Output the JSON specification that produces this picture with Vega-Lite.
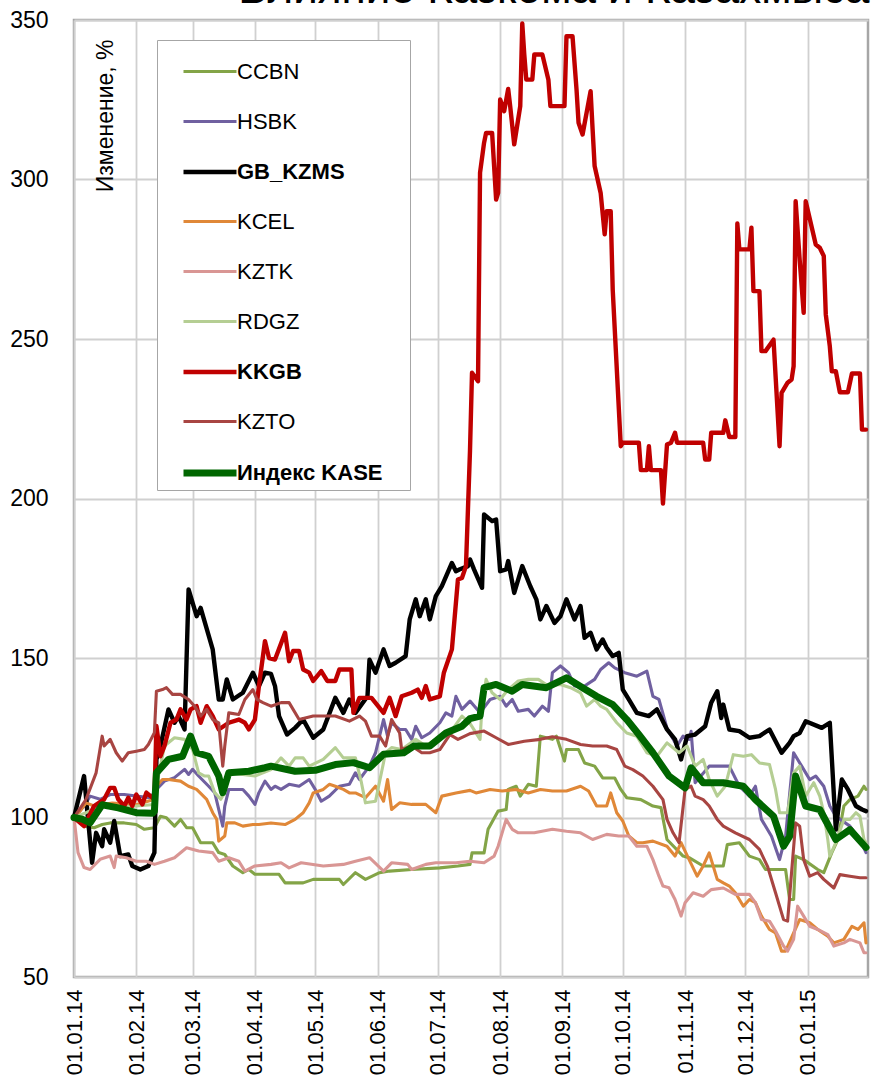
{
"$schema": "https://vega.github.io/schema/vega-lite/v6.json",
"width": 794, "height": 957,
"autosize": {"type": "none"},
"padding": {"left": 74, "top": 20, "right": 3, "bottom": 104},
"background": "white",
"title": {"text": "Влияние Казкома и Казахмыса", "anchor": "end", "orient": "top", "offset": -38, "baseline": "alphabetic", "font": "Liberation Sans", "fontSize": 44, "fontWeight": "normal", "color": "#000"},
"config": {"view": {"stroke": "#a6a6a6", "strokeWidth": 2.5}},
"data": {"values": [
{"s":"CCBN","d":"2014-01-01","v":100},{"s":"CCBN","d":"2014-01-06","v":97.3},{"s":"CCBN","d":"2014-01-11","v":96.8},{"s":"CCBN","d":"2014-01-15","v":97.8},{"s":"CCBN","d":"2014-01-19","v":98.3},{"s":"CCBN","d":"2014-01-26","v":98.3},{"s":"CCBN","d":"2014-02-01","v":97.8},{"s":"CCBN","d":"2014-02-05","v":96.3},{"s":"CCBN","d":"2014-02-10","v":96.8},{"s":"CCBN","d":"2014-02-13","v":100.4},{"s":"CCBN","d":"2014-02-16","v":99.9},{"s":"CCBN","d":"2014-02-20","v":97.3},{"s":"CCBN","d":"2014-02-23","v":99.4},{"s":"CCBN","d":"2014-02-26","v":96.8},{"s":"CCBN","d":"2014-03-01","v":96.8},{"s":"CCBN","d":"2014-03-05","v":92.1},{"s":"CCBN","d":"2014-03-11","v":92.1},{"s":"CCBN","d":"2014-03-14","v":89},{"s":"CCBN","d":"2014-03-17","v":88.4},{"s":"CCBN","d":"2014-03-21","v":84.8},{"s":"CCBN","d":"2014-03-26","v":82.7},{"s":"CCBN","d":"2014-03-29","v":83.7},{"s":"CCBN","d":"2014-04-01","v":82.2},{"s":"CCBN","d":"2014-04-09","v":82.2},{"s":"CCBN","d":"2014-04-13","v":82.2},{"s":"CCBN","d":"2014-04-16","v":79.5},{"s":"CCBN","d":"2014-04-25","v":79.5},{"s":"CCBN","d":"2014-04-30","v":80.6},{"s":"CCBN","d":"2014-05-13","v":80.6},{"s":"CCBN","d":"2014-05-15","v":79},{"s":"CCBN","d":"2014-05-21","v":82.7},{"s":"CCBN","d":"2014-05-26","v":80.6},{"s":"CCBN","d":"2014-06-02","v":82.7},{"s":"CCBN","d":"2014-06-07","v":83.2},{"s":"CCBN","d":"2014-06-18","v":83.7},{"s":"CCBN","d":"2014-07-02","v":84.2},{"s":"CCBN","d":"2014-07-11","v":84.8},{"s":"CCBN","d":"2014-07-17","v":85.3},{"s":"CCBN","d":"2014-07-18","v":88.9},{"s":"CCBN","d":"2014-07-24","v":88.9},{"s":"CCBN","d":"2014-07-26","v":96.3},{"s":"CCBN","d":"2014-07-31","v":102},{"s":"CCBN","d":"2014-08-04","v":102.5},{"s":"CCBN","d":"2014-08-05","v":108.8},{"s":"CCBN","d":"2014-08-09","v":109.8},{"s":"CCBN","d":"2014-08-11","v":106.7},{"s":"CCBN","d":"2014-08-15","v":110.4},{"s":"CCBN","d":"2014-08-19","v":109.8},{"s":"CCBN","d":"2014-08-21","v":125.5},{"s":"CCBN","d":"2014-08-27","v":124.5},{"s":"CCBN","d":"2014-08-29","v":125.5},{"s":"CCBN","d":"2014-09-02","v":117.7},{"s":"CCBN","d":"2014-09-03","v":121.3},{"s":"CCBN","d":"2014-09-09","v":121.3},{"s":"CCBN","d":"2014-09-12","v":117.1},{"s":"CCBN","d":"2014-09-17","v":116.1},{"s":"CCBN","d":"2014-09-21","v":112.4},{"s":"CCBN","d":"2014-09-27","v":112.4},{"s":"CCBN","d":"2014-09-30","v":108.8},{"s":"CCBN","d":"2014-10-03","v":106.2},{"s":"CCBN","d":"2014-10-10","v":105.6},{"s":"CCBN","d":"2014-10-16","v":103.6},{"s":"CCBN","d":"2014-10-20","v":103.1},{"s":"CCBN","d":"2014-10-23","v":93.1},{"s":"CCBN","d":"2014-10-31","v":87.9},{"s":"CCBN","d":"2014-11-03","v":87.4},{"s":"CCBN","d":"2014-11-10","v":84.8},{"s":"CCBN","d":"2014-11-20","v":84.8},{"s":"CCBN","d":"2014-11-22","v":91.5},{"s":"CCBN","d":"2014-11-28","v":92.1},{"s":"CCBN","d":"2014-12-03","v":87.9},{"s":"CCBN","d":"2014-12-08","v":86.8},{"s":"CCBN","d":"2014-12-11","v":83.7},{"s":"CCBN","d":"2014-12-21","v":83.7},{"s":"CCBN","d":"2014-12-23","v":74.3},{"s":"CCBN","d":"2014-12-25","v":74.3},{"s":"CCBN","d":"2014-12-26","v":87.9},{"s":"CCBN","d":"2014-12-30","v":86.8},{"s":"CCBN","d":"2015-01-06","v":83.7},{"s":"CCBN","d":"2015-01-09","v":82.7},{"s":"CCBN","d":"2015-01-13","v":89},{"s":"CCBN","d":"2015-01-16","v":93.1},{"s":"CCBN","d":"2015-01-19","v":103.6},{"s":"CCBN","d":"2015-01-22","v":105.6},{"s":"CCBN","d":"2015-01-26","v":106.7},{"s":"CCBN","d":"2015-01-29","v":109.8},{"s":"CCBN","d":"2015-01-30","v":108.8},
{"s":"HSBK","d":"2014-01-01","v":100},{"s":"HSBK","d":"2014-01-06","v":103.6},{"s":"HSBK","d":"2014-01-09","v":106.7},{"s":"HSBK","d":"2014-01-14","v":105.7},{"s":"HSBK","d":"2014-01-19","v":107.2},{"s":"HSBK","d":"2014-01-26","v":107.2},{"s":"HSBK","d":"2014-02-01","v":106.7},{"s":"HSBK","d":"2014-02-08","v":106.2},{"s":"HSBK","d":"2014-02-11","v":108.8},{"s":"HSBK","d":"2014-02-15","v":111.4},{"s":"HSBK","d":"2014-02-20","v":112.5},{"s":"HSBK","d":"2014-02-25","v":115.1},{"s":"HSBK","d":"2014-02-27","v":113.5},{"s":"HSBK","d":"2014-03-01","v":115.1},{"s":"HSBK","d":"2014-03-04","v":113},{"s":"HSBK","d":"2014-03-09","v":109.8},{"s":"HSBK","d":"2014-03-12","v":107.8},{"s":"HSBK","d":"2014-03-16","v":97.3},{"s":"HSBK","d":"2014-03-17","v":103.6},{"s":"HSBK","d":"2014-03-19","v":108.8},{"s":"HSBK","d":"2014-03-26","v":108.8},{"s":"HSBK","d":"2014-03-29","v":106.7},{"s":"HSBK","d":"2014-04-01","v":104.1},{"s":"HSBK","d":"2014-04-03","v":107.8},{"s":"HSBK","d":"2014-04-06","v":111.4},{"s":"HSBK","d":"2014-04-09","v":108.8},{"s":"HSBK","d":"2014-04-11","v":109.8},{"s":"HSBK","d":"2014-04-14","v":108.8},{"s":"HSBK","d":"2014-04-18","v":110.4},{"s":"HSBK","d":"2014-04-23","v":109.8},{"s":"HSBK","d":"2014-04-28","v":111.9},{"s":"HSBK","d":"2014-05-01","v":108.8},{"s":"HSBK","d":"2014-05-04","v":105.1},{"s":"HSBK","d":"2014-05-08","v":106.7},{"s":"HSBK","d":"2014-05-13","v":109.8},{"s":"HSBK","d":"2014-05-18","v":110.4},{"s":"HSBK","d":"2014-05-21","v":114},{"s":"HSBK","d":"2014-05-23","v":111.9},{"s":"HSBK","d":"2014-05-28","v":116.1},{"s":"HSBK","d":"2014-05-31","v":120.3},{"s":"HSBK","d":"2014-06-04","v":130.7},{"s":"HSBK","d":"2014-06-06","v":125.5},{"s":"HSBK","d":"2014-06-08","v":129.7},{"s":"HSBK","d":"2014-06-12","v":127.6},{"s":"HSBK","d":"2014-06-15","v":127.6},{"s":"HSBK","d":"2014-06-18","v":124.5},{"s":"HSBK","d":"2014-06-20","v":128.6},{"s":"HSBK","d":"2014-06-23","v":125},{"s":"HSBK","d":"2014-06-27","v":126.5},{"s":"HSBK","d":"2014-07-02","v":129.7},{"s":"HSBK","d":"2014-07-05","v":132.8},{"s":"HSBK","d":"2014-07-08","v":131.8},{"s":"HSBK","d":"2014-07-10","v":138},{"s":"HSBK","d":"2014-07-13","v":133.9},{"s":"HSBK","d":"2014-07-17","v":136.5},{"s":"HSBK","d":"2014-07-22","v":132.8},{"s":"HSBK","d":"2014-07-27","v":137},{"s":"HSBK","d":"2014-08-01","v":138},{"s":"HSBK","d":"2014-08-04","v":134.9},{"s":"HSBK","d":"2014-08-07","v":137},{"s":"HSBK","d":"2014-08-10","v":133.3},{"s":"HSBK","d":"2014-08-15","v":133.9},{"s":"HSBK","d":"2014-08-18","v":131.8},{"s":"HSBK","d":"2014-08-22","v":134.9},{"s":"HSBK","d":"2014-08-25","v":133.3},{"s":"HSBK","d":"2014-08-27","v":145.4},{"s":"HSBK","d":"2014-08-31","v":147.5},{"s":"HSBK","d":"2014-09-04","v":145.4},{"s":"HSBK","d":"2014-09-07","v":141.2},{"s":"HSBK","d":"2014-09-12","v":141.2},{"s":"HSBK","d":"2014-09-17","v":143.3},{"s":"HSBK","d":"2014-09-20","v":146.4},{"s":"HSBK","d":"2014-09-24","v":148.5},{"s":"HSBK","d":"2014-09-27","v":146.9},{"s":"HSBK","d":"2014-10-02","v":145.4},{"s":"HSBK","d":"2014-10-08","v":144.3},{"s":"HSBK","d":"2014-10-13","v":145.9},{"s":"HSBK","d":"2014-10-16","v":138},{"s":"HSBK","d":"2014-10-19","v":137},{"s":"HSBK","d":"2014-10-23","v":128},{"s":"HSBK","d":"2014-10-28","v":122.4},{"s":"HSBK","d":"2014-10-31","v":125.5},{"s":"HSBK","d":"2014-11-03","v":124.5},{"s":"HSBK","d":"2014-11-04","v":127},{"s":"HSBK","d":"2014-11-06","v":110.9},{"s":"HSBK","d":"2014-11-13","v":116.1},{"s":"HSBK","d":"2014-11-23","v":116.1},{"s":"HSBK","d":"2014-11-28","v":109.8},{"s":"HSBK","d":"2014-12-03","v":106.7},{"s":"HSBK","d":"2014-12-06","v":109.8},{"s":"HSBK","d":"2014-12-09","v":99.4},{"s":"HSBK","d":"2014-12-14","v":94.1},{"s":"HSBK","d":"2014-12-18","v":86.8},{"s":"HSBK","d":"2014-12-21","v":94.1},{"s":"HSBK","d":"2014-12-25","v":120.3},{"s":"HSBK","d":"2014-12-29","v":116.1},{"s":"HSBK","d":"2015-01-02","v":111.9},{"s":"HSBK","d":"2015-01-05","v":113},{"s":"HSBK","d":"2015-01-09","v":109.8},{"s":"HSBK","d":"2015-01-12","v":103.6},{"s":"HSBK","d":"2015-01-15","v":100.4},{"s":"HSBK","d":"2015-01-22","v":97.3},{"s":"HSBK","d":"2015-01-27","v":93.1},{"s":"HSBK","d":"2015-01-30","v":89},
{"s":"GB_KZMS","d":"2014-01-01","v":100},{"s":"GB_KZMS","d":"2014-01-06","v":113},{"s":"GB_KZMS","d":"2014-01-10","v":85.8},{"s":"GB_KZMS","d":"2014-01-12","v":95.2},{"s":"GB_KZMS","d":"2014-01-15","v":91},{"s":"GB_KZMS","d":"2014-01-16","v":96.3},{"s":"GB_KZMS","d":"2014-01-19","v":92.1},{"s":"GB_KZMS","d":"2014-01-21","v":98.9},{"s":"GB_KZMS","d":"2014-01-24","v":87.9},{"s":"GB_KZMS","d":"2014-01-28","v":88.4},{"s":"GB_KZMS","d":"2014-01-30","v":84.8},{"s":"GB_KZMS","d":"2014-02-03","v":83.7},{"s":"GB_KZMS","d":"2014-02-07","v":84.8},{"s":"GB_KZMS","d":"2014-02-10","v":89},{"s":"GB_KZMS","d":"2014-02-11","v":118.2},{"s":"GB_KZMS","d":"2014-02-13","v":122.4},{"s":"GB_KZMS","d":"2014-02-17","v":133.9},{"s":"GB_KZMS","d":"2014-02-20","v":129.7},{"s":"GB_KZMS","d":"2014-02-22","v":131.8},{"s":"GB_KZMS","d":"2014-02-25","v":127.6},{"s":"GB_KZMS","d":"2014-02-27","v":171.5},{"s":"GB_KZMS","d":"2014-03-03","v":163.1},{"s":"GB_KZMS","d":"2014-03-05","v":165.7},{"s":"GB_KZMS","d":"2014-03-11","v":152.7},{"s":"GB_KZMS","d":"2014-03-14","v":137},{"s":"GB_KZMS","d":"2014-03-16","v":137},{"s":"GB_KZMS","d":"2014-03-18","v":143.3},{"s":"GB_KZMS","d":"2014-03-21","v":137},{"s":"GB_KZMS","d":"2014-03-26","v":139.1},{"s":"GB_KZMS","d":"2014-03-31","v":145.4},{"s":"GB_KZMS","d":"2014-04-03","v":141.2},{"s":"GB_KZMS","d":"2014-04-06","v":145.4},{"s":"GB_KZMS","d":"2014-04-09","v":145},{"s":"GB_KZMS","d":"2014-04-11","v":141.2},{"s":"GB_KZMS","d":"2014-04-13","v":131.8},{"s":"GB_KZMS","d":"2014-04-17","v":126},{"s":"GB_KZMS","d":"2014-04-21","v":128.1},{"s":"GB_KZMS","d":"2014-04-25","v":130.7},{"s":"GB_KZMS","d":"2014-04-30","v":125},{"s":"GB_KZMS","d":"2014-05-05","v":127.6},{"s":"GB_KZMS","d":"2014-05-11","v":137.5},{"s":"GB_KZMS","d":"2014-05-15","v":132.8},{"s":"GB_KZMS","d":"2014-05-18","v":137},{"s":"GB_KZMS","d":"2014-05-21","v":132.8},{"s":"GB_KZMS","d":"2014-05-27","v":138},{"s":"GB_KZMS","d":"2014-05-28","v":149.5},{"s":"GB_KZMS","d":"2014-05-31","v":145.4},{"s":"GB_KZMS","d":"2014-06-04","v":152.7},{"s":"GB_KZMS","d":"2014-06-07","v":147.5},{"s":"GB_KZMS","d":"2014-06-10","v":148.5},{"s":"GB_KZMS","d":"2014-06-15","v":150.6},{"s":"GB_KZMS","d":"2014-06-17","v":162.1},{"s":"GB_KZMS","d":"2014-06-20","v":168.4},{"s":"GB_KZMS","d":"2014-06-22","v":163.1},{"s":"GB_KZMS","d":"2014-06-25","v":168.4},{"s":"GB_KZMS","d":"2014-06-27","v":162.1},{"s":"GB_KZMS","d":"2014-06-30","v":169.4},{"s":"GB_KZMS","d":"2014-07-03","v":172.5},{"s":"GB_KZMS","d":"2014-07-08","v":179.8},{"s":"GB_KZMS","d":"2014-07-10","v":177.2},{"s":"GB_KZMS","d":"2014-07-12","v":177.8},{"s":"GB_KZMS","d":"2014-07-16","v":178.8},{"s":"GB_KZMS","d":"2014-07-17","v":180.9},{"s":"GB_KZMS","d":"2014-07-19","v":177.8},{"s":"GB_KZMS","d":"2014-07-23","v":172},{"s":"GB_KZMS","d":"2014-07-24","v":195},{"s":"GB_KZMS","d":"2014-07-28","v":192.9},{"s":"GB_KZMS","d":"2014-07-30","v":193.4},{"s":"GB_KZMS","d":"2014-08-01","v":177.2},{"s":"GB_KZMS","d":"2014-08-04","v":177.8},{"s":"GB_KZMS","d":"2014-08-05","v":180.4},{"s":"GB_KZMS","d":"2014-08-08","v":170.4},{"s":"GB_KZMS","d":"2014-08-12","v":178.8},{"s":"GB_KZMS","d":"2014-08-16","v":172.5},{"s":"GB_KZMS","d":"2014-08-19","v":168.4},{"s":"GB_KZMS","d":"2014-08-21","v":162.1},{"s":"GB_KZMS","d":"2014-08-24","v":166.3},{"s":"GB_KZMS","d":"2014-08-28","v":161},{"s":"GB_KZMS","d":"2014-08-31","v":163.1},{"s":"GB_KZMS","d":"2014-09-03","v":168.4},{"s":"GB_KZMS","d":"2014-09-07","v":162.1},{"s":"GB_KZMS","d":"2014-09-10","v":166.3},{"s":"GB_KZMS","d":"2014-09-12","v":156.3},{"s":"GB_KZMS","d":"2014-09-15","v":157.9},{"s":"GB_KZMS","d":"2014-09-18","v":152.7},{"s":"GB_KZMS","d":"2014-09-21","v":155.8},{"s":"GB_KZMS","d":"2014-09-23","v":153.2},{"s":"GB_KZMS","d":"2014-09-26","v":150.6},{"s":"GB_KZMS","d":"2014-09-29","v":151.6},{"s":"GB_KZMS","d":"2014-10-01","v":140.1},{"s":"GB_KZMS","d":"2014-10-04","v":137},{"s":"GB_KZMS","d":"2014-10-08","v":132.8},{"s":"GB_KZMS","d":"2014-10-14","v":131.8},{"s":"GB_KZMS","d":"2014-10-18","v":133.9},{"s":"GB_KZMS","d":"2014-10-23","v":127.6},{"s":"GB_KZMS","d":"2014-10-27","v":124.5},{"s":"GB_KZMS","d":"2014-10-30","v":118.2},{"s":"GB_KZMS","d":"2014-11-02","v":125.5},{"s":"GB_KZMS","d":"2014-11-06","v":126},{"s":"GB_KZMS","d":"2014-11-11","v":128.6},{"s":"GB_KZMS","d":"2014-11-14","v":136},{"s":"GB_KZMS","d":"2014-11-17","v":139.6},{"s":"GB_KZMS","d":"2014-11-19","v":131.2},{"s":"GB_KZMS","d":"2014-11-20","v":135.4},{"s":"GB_KZMS","d":"2014-11-23","v":127.6},{"s":"GB_KZMS","d":"2014-11-28","v":127.1},{"s":"GB_KZMS","d":"2014-12-03","v":125},{"s":"GB_KZMS","d":"2014-12-08","v":125.5},{"s":"GB_KZMS","d":"2014-12-13","v":127.6},{"s":"GB_KZMS","d":"2014-12-19","v":120.3},{"s":"GB_KZMS","d":"2014-12-23","v":123.4},{"s":"GB_KZMS","d":"2014-12-25","v":125.5},{"s":"GB_KZMS","d":"2014-12-28","v":126.5},{"s":"GB_KZMS","d":"2014-12-31","v":130.2},{"s":"GB_KZMS","d":"2015-01-08","v":128.1},{"s":"GB_KZMS","d":"2015-01-12","v":129.7},{"s":"GB_KZMS","d":"2015-01-15","v":96.2},{"s":"GB_KZMS","d":"2015-01-18","v":111.9},{"s":"GB_KZMS","d":"2015-01-21","v":108.8},{"s":"GB_KZMS","d":"2015-01-25","v":103.6},{"s":"GB_KZMS","d":"2015-01-28","v":102.5},{"s":"GB_KZMS","d":"2015-01-30","v":102},
{"s":"KCEL","d":"2014-01-01","v":100},{"s":"KCEL","d":"2014-01-04","v":102},{"s":"KCEL","d":"2014-01-07","v":104.6},{"s":"KCEL","d":"2014-01-11","v":103.6},{"s":"KCEL","d":"2014-01-20","v":104.5},{"s":"KCEL","d":"2014-02-01","v":104},{"s":"KCEL","d":"2014-02-10","v":105.7},{"s":"KCEL","d":"2014-02-11","v":109.8},{"s":"KCEL","d":"2014-02-14","v":111.9},{"s":"KCEL","d":"2014-02-17","v":111.9},{"s":"KCEL","d":"2014-02-23","v":111.4},{"s":"KCEL","d":"2014-02-27","v":109.8},{"s":"KCEL","d":"2014-03-03","v":108.8},{"s":"KCEL","d":"2014-03-08","v":105.7},{"s":"KCEL","d":"2014-03-11","v":101.5},{"s":"KCEL","d":"2014-03-13","v":99.4},{"s":"KCEL","d":"2014-03-14","v":92.6},{"s":"KCEL","d":"2014-03-17","v":94.2},{"s":"KCEL","d":"2014-03-18","v":98.3},{"s":"KCEL","d":"2014-03-22","v":98.3},{"s":"KCEL","d":"2014-03-26","v":97.3},{"s":"KCEL","d":"2014-03-31","v":97.8},{"s":"KCEL","d":"2014-04-03","v":97.8},{"s":"KCEL","d":"2014-04-09","v":98.3},{"s":"KCEL","d":"2014-04-16","v":97.8},{"s":"KCEL","d":"2014-04-21","v":99.4},{"s":"KCEL","d":"2014-04-25","v":101.5},{"s":"KCEL","d":"2014-04-28","v":104.6},{"s":"KCEL","d":"2014-04-30","v":107.7},{"s":"KCEL","d":"2014-05-05","v":108.8},{"s":"KCEL","d":"2014-05-08","v":110.4},{"s":"KCEL","d":"2014-05-11","v":109.8},{"s":"KCEL","d":"2014-05-15","v":108.8},{"s":"KCEL","d":"2014-05-18","v":107.7},{"s":"KCEL","d":"2014-05-21","v":107.7},{"s":"KCEL","d":"2014-05-26","v":106.2},{"s":"KCEL","d":"2014-05-31","v":109.8},{"s":"KCEL","d":"2014-06-04","v":105.1},{"s":"KCEL","d":"2014-06-06","v":111.9},{"s":"KCEL","d":"2014-06-08","v":102.5},{"s":"KCEL","d":"2014-06-12","v":104.6},{"s":"KCEL","d":"2014-06-18","v":104.1},{"s":"KCEL","d":"2014-06-25","v":104.1},{"s":"KCEL","d":"2014-06-30","v":101.5},{"s":"KCEL","d":"2014-07-03","v":106.7},{"s":"KCEL","d":"2014-07-10","v":107.7},{"s":"KCEL","d":"2014-07-17","v":108.5},{"s":"KCEL","d":"2014-07-20","v":107.7},{"s":"KCEL","d":"2014-07-27","v":108.8},{"s":"KCEL","d":"2014-08-02","v":108.3},{"s":"KCEL","d":"2014-08-09","v":108.8},{"s":"KCEL","d":"2014-08-15","v":107.7},{"s":"KCEL","d":"2014-08-21","v":108.8},{"s":"KCEL","d":"2014-08-27","v":108.3},{"s":"KCEL","d":"2014-09-03","v":108.3},{"s":"KCEL","d":"2014-09-10","v":109.8},{"s":"KCEL","d":"2014-09-14","v":108.3},{"s":"KCEL","d":"2014-09-18","v":103.6},{"s":"KCEL","d":"2014-09-23","v":103.6},{"s":"KCEL","d":"2014-09-25","v":107.7},{"s":"KCEL","d":"2014-09-28","v":101.5},{"s":"KCEL","d":"2014-10-01","v":98.9},{"s":"KCEL","d":"2014-10-04","v":94.2},{"s":"KCEL","d":"2014-10-08","v":92.1},{"s":"KCEL","d":"2014-10-11","v":92.1},{"s":"KCEL","d":"2014-10-16","v":92.6},{"s":"KCEL","d":"2014-10-23","v":91},{"s":"KCEL","d":"2014-10-27","v":87.9},{"s":"KCEL","d":"2014-10-30","v":92.1},{"s":"KCEL","d":"2014-11-03","v":86.8},{"s":"KCEL","d":"2014-11-07","v":81.6},{"s":"KCEL","d":"2014-11-10","v":84.8},{"s":"KCEL","d":"2014-11-13","v":88.9},{"s":"KCEL","d":"2014-11-17","v":80.6},{"s":"KCEL","d":"2014-11-20","v":79.5},{"s":"KCEL","d":"2014-11-23","v":78.5},{"s":"KCEL","d":"2014-11-26","v":76.4},{"s":"KCEL","d":"2014-11-30","v":72.2},{"s":"KCEL","d":"2014-12-03","v":74.3},{"s":"KCEL","d":"2014-12-06","v":73.3},{"s":"KCEL","d":"2014-12-09","v":69.1},{"s":"KCEL","d":"2014-12-13","v":64.9},{"s":"KCEL","d":"2014-12-16","v":63.8},{"s":"KCEL","d":"2014-12-19","v":58.1},{"s":"KCEL","d":"2014-12-21","v":58.1},{"s":"KCEL","d":"2014-12-25","v":63.8},{"s":"KCEL","d":"2014-12-28","v":68},{"s":"KCEL","d":"2015-01-02","v":67},{"s":"KCEL","d":"2015-01-06","v":64.9},{"s":"KCEL","d":"2015-01-11","v":62.8},{"s":"KCEL","d":"2015-01-14","v":60.7},{"s":"KCEL","d":"2015-01-19","v":61.8},{"s":"KCEL","d":"2015-01-23","v":65.9},{"s":"KCEL","d":"2015-01-26","v":64.9},{"s":"KCEL","d":"2015-01-29","v":67},{"s":"KCEL","d":"2015-01-30","v":60.7},
{"s":"KZTK","d":"2014-01-01","v":100},{"s":"KZTK","d":"2014-01-03","v":89},{"s":"KZTK","d":"2014-01-06","v":84.3},{"s":"KZTK","d":"2014-01-09","v":83.7},{"s":"KZTK","d":"2014-01-14","v":86.9},{"s":"KZTK","d":"2014-01-19","v":87.9},{"s":"KZTK","d":"2014-01-21","v":84.3},{"s":"KZTK","d":"2014-01-22","v":87.9},{"s":"KZTK","d":"2014-01-27","v":87.4},{"s":"KZTK","d":"2014-02-01","v":86.3},{"s":"KZTK","d":"2014-02-06","v":86.3},{"s":"KZTK","d":"2014-02-10","v":85.3},{"s":"KZTK","d":"2014-02-15","v":86.3},{"s":"KZTK","d":"2014-02-20","v":87.4},{"s":"KZTK","d":"2014-02-26","v":90.5},{"s":"KZTK","d":"2014-03-04","v":89.5},{"s":"KZTK","d":"2014-03-11","v":89},{"s":"KZTK","d":"2014-03-14","v":86.3},{"s":"KZTK","d":"2014-03-19","v":87.4},{"s":"KZTK","d":"2014-03-24","v":86.3},{"s":"KZTK","d":"2014-03-27","v":83.2},{"s":"KZTK","d":"2014-04-01","v":84.8},{"s":"KZTK","d":"2014-04-09","v":85.3},{"s":"KZTK","d":"2014-04-14","v":85.8},{"s":"KZTK","d":"2014-04-18","v":84.2},{"s":"KZTK","d":"2014-04-24","v":85.8},{"s":"KZTK","d":"2014-05-05","v":84.8},{"s":"KZTK","d":"2014-05-15","v":85.3},{"s":"KZTK","d":"2014-05-21","v":86.3},{"s":"KZTK","d":"2014-05-28","v":87.4},{"s":"KZTK","d":"2014-06-04","v":83.2},{"s":"KZTK","d":"2014-06-08","v":85.8},{"s":"KZTK","d":"2014-06-16","v":85.3},{"s":"KZTK","d":"2014-06-18","v":83.7},{"s":"KZTK","d":"2014-06-25","v":85.3},{"s":"KZTK","d":"2014-06-30","v":85.8},{"s":"KZTK","d":"2014-07-10","v":85.8},{"s":"KZTK","d":"2014-07-17","v":86.3},{"s":"KZTK","d":"2014-07-24","v":85.8},{"s":"KZTK","d":"2014-07-29","v":87.9},{"s":"KZTK","d":"2014-07-31","v":91},{"s":"KZTK","d":"2014-08-04","v":99.4},{"s":"KZTK","d":"2014-08-07","v":96.3},{"s":"KZTK","d":"2014-08-10","v":95.2},{"s":"KZTK","d":"2014-08-18","v":95.2},{"s":"KZTK","d":"2014-08-27","v":96.3},{"s":"KZTK","d":"2014-09-03","v":95.7},{"s":"KZTK","d":"2014-09-10","v":95.2},{"s":"KZTK","d":"2014-09-16","v":93.1},{"s":"KZTK","d":"2014-09-23","v":94.7},{"s":"KZTK","d":"2014-09-29","v":94.2},{"s":"KZTK","d":"2014-10-04","v":94.2},{"s":"KZTK","d":"2014-10-08","v":91},{"s":"KZTK","d":"2014-10-13","v":91},{"s":"KZTK","d":"2014-10-16","v":86.8},{"s":"KZTK","d":"2014-10-19","v":81.6},{"s":"KZTK","d":"2014-10-21","v":78.5},{"s":"KZTK","d":"2014-10-24","v":78},{"s":"KZTK","d":"2014-10-27","v":74.3},{"s":"KZTK","d":"2014-10-30","v":69.1},{"s":"KZTK","d":"2014-11-01","v":73.3},{"s":"KZTK","d":"2014-11-05","v":76.4},{"s":"KZTK","d":"2014-11-10","v":75.3},{"s":"KZTK","d":"2014-11-14","v":77.4},{"s":"KZTK","d":"2014-11-20","v":77.9},{"s":"KZTK","d":"2014-11-26","v":75.9},{"s":"KZTK","d":"2014-12-03","v":75.9},{"s":"KZTK","d":"2014-12-06","v":73.3},{"s":"KZTK","d":"2014-12-09","v":68},{"s":"KZTK","d":"2014-12-13","v":67.5},{"s":"KZTK","d":"2014-12-16","v":64.4},{"s":"KZTK","d":"2014-12-20","v":59.7},{"s":"KZTK","d":"2014-12-22","v":58.1},{"s":"KZTK","d":"2014-12-25","v":61.8},{"s":"KZTK","d":"2014-12-27","v":72.2},{"s":"KZTK","d":"2014-12-30","v":69.1},{"s":"KZTK","d":"2015-01-02","v":65.9},{"s":"KZTK","d":"2015-01-06","v":64.9},{"s":"KZTK","d":"2015-01-11","v":63.3},{"s":"KZTK","d":"2015-01-14","v":59.7},{"s":"KZTK","d":"2015-01-19","v":60.7},{"s":"KZTK","d":"2015-01-22","v":61.8},{"s":"KZTK","d":"2015-01-27","v":60.7},{"s":"KZTK","d":"2015-01-29","v":57.6},{"s":"KZTK","d":"2015-01-30","v":57.6},
{"s":"RDGZ","d":"2014-01-01","v":100},{"s":"RDGZ","d":"2014-01-07","v":101.5},{"s":"RDGZ","d":"2014-01-14","v":103.6},{"s":"RDGZ","d":"2014-01-21","v":103.1},{"s":"RDGZ","d":"2014-02-01","v":103.6},{"s":"RDGZ","d":"2014-02-10","v":104.1},{"s":"RDGZ","d":"2014-02-12","v":113},{"s":"RDGZ","d":"2014-02-15","v":122.4},{"s":"RDGZ","d":"2014-02-20","v":125},{"s":"RDGZ","d":"2014-02-25","v":124.5},{"s":"RDGZ","d":"2014-03-01","v":121.3},{"s":"RDGZ","d":"2014-03-04","v":114},{"s":"RDGZ","d":"2014-03-07","v":113},{"s":"RDGZ","d":"2014-03-09","v":113},{"s":"RDGZ","d":"2014-03-12","v":107.8},{"s":"RDGZ","d":"2014-03-15","v":105.7},{"s":"RDGZ","d":"2014-03-17","v":107.8},{"s":"RDGZ","d":"2014-03-19","v":114},{"s":"RDGZ","d":"2014-03-26","v":113.5},{"s":"RDGZ","d":"2014-04-01","v":113},{"s":"RDGZ","d":"2014-04-09","v":115},{"s":"RDGZ","d":"2014-04-14","v":118.7},{"s":"RDGZ","d":"2014-04-18","v":116.1},{"s":"RDGZ","d":"2014-04-21","v":118.7},{"s":"RDGZ","d":"2014-04-25","v":118.7},{"s":"RDGZ","d":"2014-04-28","v":116.1},{"s":"RDGZ","d":"2014-05-05","v":118.2},{"s":"RDGZ","d":"2014-05-11","v":121.9},{"s":"RDGZ","d":"2014-05-15","v":118.7},{"s":"RDGZ","d":"2014-05-21","v":118.7},{"s":"RDGZ","d":"2014-05-24","v":110.9},{"s":"RDGZ","d":"2014-05-26","v":104.6},{"s":"RDGZ","d":"2014-05-31","v":105.1},{"s":"RDGZ","d":"2014-06-05","v":120.3},{"s":"RDGZ","d":"2014-06-08","v":121.9},{"s":"RDGZ","d":"2014-06-13","v":121.3},{"s":"RDGZ","d":"2014-06-20","v":124.5},{"s":"RDGZ","d":"2014-06-25","v":122.4},{"s":"RDGZ","d":"2014-06-30","v":124.5},{"s":"RDGZ","d":"2014-07-07","v":126.5},{"s":"RDGZ","d":"2014-07-13","v":131.8},{"s":"RDGZ","d":"2014-07-17","v":129.5},{"s":"RDGZ","d":"2014-07-22","v":124.5},{"s":"RDGZ","d":"2014-07-23","v":134.9},{"s":"RDGZ","d":"2014-07-25","v":143.3},{"s":"RDGZ","d":"2014-07-28","v":139.1},{"s":"RDGZ","d":"2014-08-01","v":137},{"s":"RDGZ","d":"2014-08-05","v":140.1},{"s":"RDGZ","d":"2014-08-10","v":142.8},{"s":"RDGZ","d":"2014-08-15","v":143.3},{"s":"RDGZ","d":"2014-08-20","v":143.3},{"s":"RDGZ","d":"2014-08-25","v":141.2},{"s":"RDGZ","d":"2014-08-31","v":141.7},{"s":"RDGZ","d":"2014-09-05","v":140.7},{"s":"RDGZ","d":"2014-09-10","v":139.1},{"s":"RDGZ","d":"2014-09-13","v":134.9},{"s":"RDGZ","d":"2014-09-17","v":137},{"s":"RDGZ","d":"2014-09-20","v":134.9},{"s":"RDGZ","d":"2014-09-23","v":133.9},{"s":"RDGZ","d":"2014-09-28","v":129.7},{"s":"RDGZ","d":"2014-10-03","v":126.5},{"s":"RDGZ","d":"2014-10-08","v":125.5},{"s":"RDGZ","d":"2014-10-13","v":120.3},{"s":"RDGZ","d":"2014-10-18","v":119.2},{"s":"RDGZ","d":"2014-10-23","v":123.4},{"s":"RDGZ","d":"2014-10-29","v":120.3},{"s":"RDGZ","d":"2014-11-02","v":122.4},{"s":"RDGZ","d":"2014-11-06","v":116.1},{"s":"RDGZ","d":"2014-11-10","v":118.2},{"s":"RDGZ","d":"2014-11-13","v":111.9},{"s":"RDGZ","d":"2014-11-17","v":106.7},{"s":"RDGZ","d":"2014-11-21","v":109.8},{"s":"RDGZ","d":"2014-11-25","v":119.7},{"s":"RDGZ","d":"2014-11-30","v":119.2},{"s":"RDGZ","d":"2014-12-04","v":119.7},{"s":"RDGZ","d":"2014-12-08","v":117.1},{"s":"RDGZ","d":"2014-12-13","v":116.6},{"s":"RDGZ","d":"2014-12-16","v":108.8},{"s":"RDGZ","d":"2014-12-18","v":101.5},{"s":"RDGZ","d":"2014-12-22","v":101.5},{"s":"RDGZ","d":"2014-12-25","v":114},{"s":"RDGZ","d":"2014-12-28","v":116.1},{"s":"RDGZ","d":"2014-12-31","v":106.7},{"s":"RDGZ","d":"2015-01-04","v":110.9},{"s":"RDGZ","d":"2015-01-07","v":106.7},{"s":"RDGZ","d":"2015-01-09","v":101.5},{"s":"RDGZ","d":"2015-01-11","v":93.1},{"s":"RDGZ","d":"2015-01-12","v":87.9},{"s":"RDGZ","d":"2015-01-15","v":92.1},{"s":"RDGZ","d":"2015-01-19","v":99.4},{"s":"RDGZ","d":"2015-01-22","v":99.4},{"s":"RDGZ","d":"2015-01-25","v":101.5},{"s":"RDGZ","d":"2015-01-27","v":100.4},{"s":"RDGZ","d":"2015-01-29","v":93.1},{"s":"RDGZ","d":"2015-01-30","v":92.1},
{"s":"KKGB","d":"2014-01-01","v":100},{"s":"KKGB","d":"2014-01-06","v":97.3},{"s":"KKGB","d":"2014-01-11","v":103.6},{"s":"KKGB","d":"2014-01-16","v":105.7},{"s":"KKGB","d":"2014-01-19","v":109.3},{"s":"KKGB","d":"2014-01-21","v":109.3},{"s":"KKGB","d":"2014-01-23","v":105.7},{"s":"KKGB","d":"2014-01-26","v":103.6},{"s":"KKGB","d":"2014-01-28","v":106.2},{"s":"KKGB","d":"2014-01-30","v":103.6},{"s":"KKGB","d":"2014-02-01","v":107.2},{"s":"KKGB","d":"2014-02-04","v":104.1},{"s":"KKGB","d":"2014-02-06","v":107.8},{"s":"KKGB","d":"2014-02-10","v":105.7},{"s":"KKGB","d":"2014-02-11","v":128.7},{"s":"KKGB","d":"2014-02-13","v":119.2},{"s":"KKGB","d":"2014-02-15","v":122.4},{"s":"KKGB","d":"2014-02-18","v":129.7},{"s":"KKGB","d":"2014-02-21","v":130.7},{"s":"KKGB","d":"2014-02-23","v":133.9},{"s":"KKGB","d":"2014-02-26","v":130.7},{"s":"KKGB","d":"2014-02-28","v":133.9},{"s":"KKGB","d":"2014-03-03","v":134.9},{"s":"KKGB","d":"2014-03-05","v":129.7},{"s":"KKGB","d":"2014-03-08","v":134.9},{"s":"KKGB","d":"2014-03-11","v":131.8},{"s":"KKGB","d":"2014-03-14","v":127.6},{"s":"KKGB","d":"2014-03-19","v":129.7},{"s":"KKGB","d":"2014-03-24","v":130.7},{"s":"KKGB","d":"2014-03-27","v":129.7},{"s":"KKGB","d":"2014-03-29","v":127.6},{"s":"KKGB","d":"2014-04-01","v":130.7},{"s":"KKGB","d":"2014-04-03","v":141.2},{"s":"KKGB","d":"2014-04-06","v":155.3},{"s":"KKGB","d":"2014-04-08","v":150},{"s":"KKGB","d":"2014-04-11","v":149.5},{"s":"KKGB","d":"2014-04-16","v":157.9},{"s":"KKGB","d":"2014-04-18","v":149},{"s":"KKGB","d":"2014-04-20","v":152.2},{"s":"KKGB","d":"2014-04-23","v":152.2},{"s":"KKGB","d":"2014-04-25","v":146.4},{"s":"KKGB","d":"2014-04-28","v":145.4},{"s":"KKGB","d":"2014-04-30","v":142.8},{"s":"KKGB","d":"2014-05-04","v":145.9},{"s":"KKGB","d":"2014-05-07","v":142.8},{"s":"KKGB","d":"2014-05-11","v":142.8},{"s":"KKGB","d":"2014-05-13","v":146.4},{"s":"KKGB","d":"2014-05-19","v":146.4},{"s":"KKGB","d":"2014-05-20","v":132.8},{"s":"KKGB","d":"2014-05-23","v":137.5},{"s":"KKGB","d":"2014-05-29","v":137.5},{"s":"KKGB","d":"2014-06-04","v":132.8},{"s":"KKGB","d":"2014-06-07","v":137.5},{"s":"KKGB","d":"2014-06-10","v":131.8},{"s":"KKGB","d":"2014-06-13","v":138},{"s":"KKGB","d":"2014-06-18","v":139.1},{"s":"KKGB","d":"2014-06-21","v":140.1},{"s":"KKGB","d":"2014-06-23","v":137.5},{"s":"KKGB","d":"2014-06-25","v":141.2},{"s":"KKGB","d":"2014-06-27","v":137},{"s":"KKGB","d":"2014-07-02","v":138},{"s":"KKGB","d":"2014-07-04","v":145.4},{"s":"KKGB","d":"2014-07-08","v":152.7},{"s":"KKGB","d":"2014-07-11","v":174.6},{"s":"KKGB","d":"2014-07-13","v":175.1},{"s":"KKGB","d":"2014-07-15","v":178.8},{"s":"KKGB","d":"2014-07-17","v":215},{"s":"KKGB","d":"2014-07-18","v":239.4},{"s":"KKGB","d":"2014-07-21","v":236.8},{"s":"KKGB","d":"2014-07-22","v":302.1},{"s":"KKGB","d":"2014-07-24","v":311.5},{"s":"KKGB","d":"2014-07-25","v":314.6},{"s":"KKGB","d":"2014-07-28","v":314.6},{"s":"KKGB","d":"2014-07-30","v":293.7},{"s":"KKGB","d":"2014-07-31","v":295.8},{"s":"KKGB","d":"2014-08-01","v":325.1},{"s":"KKGB","d":"2014-08-03","v":321.4},{"s":"KKGB","d":"2014-08-05","v":328.4},{"s":"KKGB","d":"2014-08-06","v":323},{"s":"KKGB","d":"2014-08-08","v":311},{"s":"KKGB","d":"2014-08-11","v":323},{"s":"KKGB","d":"2014-08-12","v":348.9},{"s":"KKGB","d":"2014-08-13","v":339.2},{"s":"KKGB","d":"2014-08-14","v":331.3},{"s":"KKGB","d":"2014-08-17","v":331.3},{"s":"KKGB","d":"2014-08-18","v":339.2},{"s":"KKGB","d":"2014-08-22","v":339.2},{"s":"KKGB","d":"2014-08-25","v":331.3},{"s":"KKGB","d":"2014-08-26","v":323},{"s":"KKGB","d":"2014-09-02","v":323},{"s":"KKGB","d":"2014-09-03","v":344.9},{"s":"KKGB","d":"2014-09-06","v":344.9},{"s":"KKGB","d":"2014-09-08","v":328.2},{"s":"KKGB","d":"2014-09-09","v":317.8},{"s":"KKGB","d":"2014-09-11","v":314.1},{"s":"KKGB","d":"2014-09-15","v":327.7},{"s":"KKGB","d":"2014-09-16","v":315.7},{"s":"KKGB","d":"2014-09-17","v":304.2},{"s":"KKGB","d":"2014-09-20","v":295.8},{"s":"KKGB","d":"2014-09-22","v":282.8},{"s":"KKGB","d":"2014-09-23","v":290.1},{"s":"KKGB","d":"2014-09-25","v":290.1},{"s":"KKGB","d":"2014-09-26","v":265.5},{"s":"KKGB","d":"2014-09-30","v":216.4},{"s":"KKGB","d":"2014-10-01","v":217.5},{"s":"KKGB","d":"2014-10-09","v":217.5},{"s":"KKGB","d":"2014-10-10","v":208.9},{"s":"KKGB","d":"2014-10-13","v":208.9},{"s":"KKGB","d":"2014-10-14","v":216.4},{"s":"KKGB","d":"2014-10-15","v":208.9},{"s":"KKGB","d":"2014-10-20","v":208.9},{"s":"KKGB","d":"2014-10-21","v":198.4},{"s":"KKGB","d":"2014-10-23","v":216.9},{"s":"KKGB","d":"2014-10-25","v":217.5},{"s":"KKGB","d":"2014-10-27","v":220.6},{"s":"KKGB","d":"2014-10-28","v":217.5},{"s":"KKGB","d":"2014-11-10","v":217.5},{"s":"KKGB","d":"2014-11-11","v":212.2},{"s":"KKGB","d":"2014-11-13","v":212.2},{"s":"KKGB","d":"2014-11-14","v":220.6},{"s":"KKGB","d":"2014-11-20","v":220.6},{"s":"KKGB","d":"2014-11-21","v":224.5},{"s":"KKGB","d":"2014-11-23","v":219.3},{"s":"KKGB","d":"2014-11-26","v":219.3},{"s":"KKGB","d":"2014-11-27","v":286.2},{"s":"KKGB","d":"2014-11-28","v":278.1},{"s":"KKGB","d":"2014-12-03","v":278.1},{"s":"KKGB","d":"2014-12-04","v":284.9},{"s":"KKGB","d":"2014-12-05","v":265},{"s":"KKGB","d":"2014-12-08","v":265},{"s":"KKGB","d":"2014-12-09","v":246.2},{"s":"KKGB","d":"2014-12-11","v":246.2},{"s":"KKGB","d":"2014-12-15","v":249.8},{"s":"KKGB","d":"2014-12-18","v":216.4},{"s":"KKGB","d":"2014-12-19","v":233.1},{"s":"KKGB","d":"2014-12-22","v":236.3},{"s":"KKGB","d":"2014-12-24","v":237.3},{"s":"KKGB","d":"2014-12-25","v":241.5},{"s":"KKGB","d":"2014-12-26","v":293.2},{"s":"KKGB","d":"2014-12-28","v":274.9},{"s":"KKGB","d":"2014-12-30","v":258.2},{"s":"KKGB","d":"2014-12-31","v":293.2},{"s":"KKGB","d":"2015-01-05","v":279.6},{"s":"KKGB","d":"2015-01-07","v":278.6},{"s":"KKGB","d":"2015-01-09","v":276},{"s":"KKGB","d":"2015-01-10","v":257.7},{"s":"KKGB","d":"2015-01-12","v":247.7},{"s":"KKGB","d":"2015-01-13","v":239.9},{"s":"KKGB","d":"2015-01-15","v":239.9},{"s":"KKGB","d":"2015-01-17","v":233.3},{"s":"KKGB","d":"2015-01-21","v":233.3},{"s":"KKGB","d":"2015-01-23","v":239.2},{"s":"KKGB","d":"2015-01-27","v":239.2},{"s":"KKGB","d":"2015-01-28","v":221.6},{"s":"KKGB","d":"2015-01-30","v":221.6},
{"s":"KZTO","d":"2014-01-01","v":100},{"s":"KZTO","d":"2014-01-07","v":105.7},{"s":"KZTO","d":"2014-01-12","v":114},{"s":"KZTO","d":"2014-01-15","v":125.5},{"s":"KZTO","d":"2014-01-16","v":122.4},{"s":"KZTO","d":"2014-01-19","v":124.5},{"s":"KZTO","d":"2014-01-22","v":120.3},{"s":"KZTO","d":"2014-01-25","v":117.7},{"s":"KZTO","d":"2014-01-28","v":120.3},{"s":"KZTO","d":"2014-02-01","v":120.8},{"s":"KZTO","d":"2014-02-05","v":121.3},{"s":"KZTO","d":"2014-02-07","v":122.9},{"s":"KZTO","d":"2014-02-10","v":126.6},{"s":"KZTO","d":"2014-02-11","v":139.6},{"s":"KZTO","d":"2014-02-14","v":140.1},{"s":"KZTO","d":"2014-02-16","v":140.7},{"s":"KZTO","d":"2014-02-19","v":138.6},{"s":"KZTO","d":"2014-02-23","v":138.6},{"s":"KZTO","d":"2014-02-27","v":137},{"s":"KZTO","d":"2014-03-02","v":134.9},{"s":"KZTO","d":"2014-03-05","v":131.8},{"s":"KZTO","d":"2014-03-08","v":133.9},{"s":"KZTO","d":"2014-03-11","v":130.7},{"s":"KZTO","d":"2014-03-14","v":129.7},{"s":"KZTO","d":"2014-03-16","v":116.1},{"s":"KZTO","d":"2014-03-17","v":122.4},{"s":"KZTO","d":"2014-03-19","v":132.8},{"s":"KZTO","d":"2014-03-24","v":132.3},{"s":"KZTO","d":"2014-03-27","v":137},{"s":"KZTO","d":"2014-03-31","v":140.1},{"s":"KZTO","d":"2014-04-02","v":137},{"s":"KZTO","d":"2014-04-05","v":136},{"s":"KZTO","d":"2014-04-09","v":134.9},{"s":"KZTO","d":"2014-04-14","v":136},{"s":"KZTO","d":"2014-04-18","v":136},{"s":"KZTO","d":"2014-04-23","v":130.7},{"s":"KZTO","d":"2014-04-30","v":131.8},{"s":"KZTO","d":"2014-05-11","v":131.8},{"s":"KZTO","d":"2014-05-18","v":130.2},{"s":"KZTO","d":"2014-05-23","v":131.8},{"s":"KZTO","d":"2014-05-26","v":130.2},{"s":"KZTO","d":"2014-05-29","v":125.5},{"s":"KZTO","d":"2014-06-02","v":125.5},{"s":"KZTO","d":"2014-06-05","v":122.4},{"s":"KZTO","d":"2014-06-08","v":130.7},{"s":"KZTO","d":"2014-06-12","v":126.5},{"s":"KZTO","d":"2014-06-13","v":121.3},{"s":"KZTO","d":"2014-06-18","v":122.4},{"s":"KZTO","d":"2014-06-23","v":120.3},{"s":"KZTO","d":"2014-06-27","v":120.3},{"s":"KZTO","d":"2014-07-02","v":121.3},{"s":"KZTO","d":"2014-07-07","v":126},{"s":"KZTO","d":"2014-07-11","v":124.5},{"s":"KZTO","d":"2014-07-17","v":126.3},{"s":"KZTO","d":"2014-07-24","v":127.1},{"s":"KZTO","d":"2014-07-30","v":125},{"s":"KZTO","d":"2014-08-05","v":122.9},{"s":"KZTO","d":"2014-08-13","v":123.9},{"s":"KZTO","d":"2014-08-21","v":124.5},{"s":"KZTO","d":"2014-08-27","v":125.3},{"s":"KZTO","d":"2014-09-03","v":124.5},{"s":"KZTO","d":"2014-09-10","v":122.9},{"s":"KZTO","d":"2014-09-16","v":122.4},{"s":"KZTO","d":"2014-09-23","v":122.4},{"s":"KZTO","d":"2014-09-28","v":121.3},{"s":"KZTO","d":"2014-10-02","v":116.1},{"s":"KZTO","d":"2014-10-06","v":115},{"s":"KZTO","d":"2014-10-11","v":113},{"s":"KZTO","d":"2014-10-16","v":109.8},{"s":"KZTO","d":"2014-10-21","v":105.6},{"s":"KZTO","d":"2014-10-23","v":99.4},{"s":"KZTO","d":"2014-10-26","v":95.2},{"s":"KZTO","d":"2014-10-29","v":92.1},{"s":"KZTO","d":"2014-11-01","v":108.8},{"s":"KZTO","d":"2014-11-04","v":109.8},{"s":"KZTO","d":"2014-11-06","v":106.7},{"s":"KZTO","d":"2014-11-10","v":105.6},{"s":"KZTO","d":"2014-11-13","v":103.6},{"s":"KZTO","d":"2014-11-17","v":99.4},{"s":"KZTO","d":"2014-11-20","v":97.3},{"s":"KZTO","d":"2014-11-26","v":95.2},{"s":"KZTO","d":"2014-12-03","v":93.1},{"s":"KZTO","d":"2014-12-08","v":90},{"s":"KZTO","d":"2014-12-12","v":84.7},{"s":"KZTO","d":"2014-12-16","v":76.4},{"s":"KZTO","d":"2014-12-20","v":68},{"s":"KZTO","d":"2014-12-22","v":67.5},{"s":"KZTO","d":"2014-12-26","v":98.3},{"s":"KZTO","d":"2014-12-28","v":97.3},{"s":"KZTO","d":"2014-12-30","v":86.8},{"s":"KZTO","d":"2015-01-02","v":81.6},{"s":"KZTO","d":"2015-01-06","v":82.7},{"s":"KZTO","d":"2015-01-09","v":80.6},{"s":"KZTO","d":"2015-01-14","v":77.9},{"s":"KZTO","d":"2015-01-17","v":82.1},{"s":"KZTO","d":"2015-01-22","v":81.6},{"s":"KZTO","d":"2015-01-27","v":81.1},{"s":"KZTO","d":"2015-01-30","v":81.1},
{"s":"Индекс KASE","d":"2014-01-01","v":100},{"s":"Индекс KASE","d":"2014-01-05","v":99.5},{"s":"Индекс KASE","d":"2014-01-09","v":98.3},{"s":"Индекс KASE","d":"2014-01-15","v":104},{"s":"Индекс KASE","d":"2014-01-23","v":103},{"s":"Индекс KASE","d":"2014-02-01","v":101.5},{"s":"Индекс KASE","d":"2014-02-09","v":101.3},{"s":"Индекс KASE","d":"2014-02-10","v":102},{"s":"Индекс KASE","d":"2014-02-11","v":114},{"s":"Индекс KASE","d":"2014-02-17","v":118.2},{"s":"Индекс KASE","d":"2014-02-24","v":119.2},{"s":"Индекс KASE","d":"2014-02-28","v":125.5},{"s":"Индекс KASE","d":"2014-03-03","v":120.3},{"s":"Индекс KASE","d":"2014-03-09","v":119.2},{"s":"Индекс KASE","d":"2014-03-14","v":113},{"s":"Индекс KASE","d":"2014-03-16","v":107.8},{"s":"Индекс KASE","d":"2014-03-19","v":114},{"s":"Индекс KASE","d":"2014-03-29","v":114.5},{"s":"Индекс KASE","d":"2014-04-06","v":115.6},{"s":"Индекс KASE","d":"2014-04-09","v":116.1},{"s":"Индекс KASE","d":"2014-04-21","v":114.5},{"s":"Индекс KASE","d":"2014-05-01","v":114.8},{"s":"Индекс KASE","d":"2014-05-11","v":116.6},{"s":"Индекс KASE","d":"2014-05-20","v":117.2},{"s":"Индекс KASE","d":"2014-05-28","v":115.6},{"s":"Индекс KASE","d":"2014-06-04","v":119.8},{"s":"Индекс KASE","d":"2014-06-14","v":120.3},{"s":"Индекс KASE","d":"2014-06-19","v":122.4},{"s":"Индекс KASE","d":"2014-06-27","v":122.4},{"s":"Индекс KASE","d":"2014-07-05","v":126.5},{"s":"Индекс KASE","d":"2014-07-13","v":128.6},{"s":"Индекс KASE","d":"2014-07-17","v":131},{"s":"Индекс KASE","d":"2014-07-22","v":131.8},{"s":"Индекс KASE","d":"2014-07-24","v":140.7},{"s":"Индекс KASE","d":"2014-07-30","v":141.7},{"s":"Индекс KASE","d":"2014-08-07","v":139.6},{"s":"Индекс KASE","d":"2014-08-12","v":141.7},{"s":"Индекс KASE","d":"2014-08-24","v":140.7},{"s":"Индекс KASE","d":"2014-09-03","v":143.8},{"s":"Индекс KASE","d":"2014-09-11","v":140.7},{"s":"Индекс KASE","d":"2014-09-18","v":138},{"s":"Индекс KASE","d":"2014-09-26","v":135.4},{"s":"Индекс KASE","d":"2014-10-03","v":130.7},{"s":"Индекс KASE","d":"2014-10-09","v":126},{"s":"Индекс KASE","d":"2014-10-16","v":120.3},{"s":"Индекс KASE","d":"2014-10-24","v":113},{"s":"Индекс KASE","d":"2014-11-01","v":109.3},{"s":"Индекс KASE","d":"2014-11-04","v":115.6},{"s":"Индекс KASE","d":"2014-11-10","v":110.9},{"s":"Индекс KASE","d":"2014-11-20","v":110.9},{"s":"Индекс KASE","d":"2014-11-30","v":109.8},{"s":"Индекс KASE","d":"2014-12-06","v":105.6},{"s":"Индекс KASE","d":"2014-12-15","v":100.4},{"s":"Индекс KASE","d":"2014-12-20","v":91},{"s":"Индекс KASE","d":"2014-12-23","v":94.1},{"s":"Индекс KASE","d":"2014-12-26","v":113},{"s":"Индекс KASE","d":"2014-12-31","v":103.6},{"s":"Индекс KASE","d":"2015-01-07","v":102.5},{"s":"Индекс KASE","d":"2015-01-15","v":93.1},{"s":"Индекс KASE","d":"2015-01-22","v":96.2},{"s":"Индекс KASE","d":"2015-01-30","v":90.6}
]},
"mark": {"type": "line", "strokeJoin": "round", "strokeCap": "round"},
"encoding": {
"x": {"field": "d", "type": "temporal",
 "scale": {"type": "utc", "domain": [{"year": 2014, "month": 1, "date": 1, "utc": true}, {"year": 2015, "month": 1, "date": 31, "utc": true}]},
 "axis": {"title": null, "format": "%d.%m.%y", "tickCount": {"interval": "month", "step": 1}, "labelAngle": 270, "labelFont": "Liberation Sans", "labelFontSize": 22, "labelColor": "#000", "labelPadding": 12, "ticks": false, "domain": false, "grid": true, "gridColor": "#d0d0d0", "gridWidth": 1.8, "labelOverlap": false, "labelBound": false, "labelFlush": false}},
"y": {"field": "v", "type": "quantitative",
 "scale": {"domain": [50, 350], "nice": false, "zero": false},
 "axis": {"title": "Изменение, %", "values": [50, 100, 150, 200, 250, 300, 350], "labelFont": "Liberation Sans", "labelFontSize": 23, "labelColor": "#000", "labelPadding": 26, "ticks": false, "domain": false, "grid": true, "gridColor": "#d0d0d0", "gridWidth": 1.8, "labelFlush": false, "labelOverlap": false, "labelBound": false,
  "titleFont": "Liberation Sans", "titleFontSize": 23, "titleFontWeight": "normal", "titleColor": "#000", "titleAngle": 270, "titleX": 31, "titleY": 19, "titleAlign": "right", "titleBaseline": "middle"}},
"color": {"field": "s", "type": "nominal",
 "scale": {"domain": ["CCBN", "HSBK", "GB_KZMS", "KCEL", "KZTK", "RDGZ", "KKGB", "KZTO", "Индекс KASE"], "range": ["#83A447", "#7060A0", "#000000", "#E08838", "#D99694", "#B5CE93", "#C00000", "#A84542", "#006600"]},
 "legend": {"title": ".", "titleOrient": "right", "titleFontSize": 8, "titleOpacity": 0, "titlePadding": 22, "orient": "none", "legendX": 83, "legendY": 20, "fillColor": "white", "strokeColor": "#a6a6a6", "padding": 3, "symbolType": "stroke", "symbolSize": 2809, "symbolOffset": 20, "labelOffset": -3, "rowPadding": 10, "labelFont": "Liberation Sans", "labelFontSize": 22, "labelColor": "#000", "labelLimit": 400,
  "labelFontWeight": {"expr": "indexof(['GB_KZMS','KKGB','Индекс KASE'], datum.value) >= 0 ? 'bold' : 'normal'"}}},
"strokeWidth": {"field": "s", "type": "nominal",
 "scale": {"type": "ordinal", "domain": ["CCBN", "HSBK", "GB_KZMS", "KCEL", "KZTK", "RDGZ", "KKGB", "KZTO", "Индекс KASE"], "range": [3.1, 3.1, 4.4, 3.1, 3.1, 3.1, 4.4, 3.1, 7]}}
}
}
